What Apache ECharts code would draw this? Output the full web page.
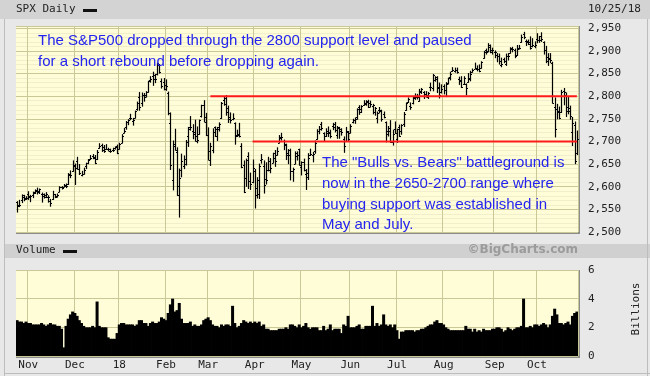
<!DOCTYPE html>
<html>
<head>
<meta charset="utf-8">
<script src="https://cdn.jsdelivr.net/npm/echarts@6/dist/echarts.min.js"></script>
<style>
  html, body { margin: 0; padding: 0; background: #e8e8e8; }
  #chart { width: 650px; height: 376px; }
</style>
</head>
<body>
<div id="chart"></div>
<script>
// trading days, 10/25/17 .. 10/25/18
const firstDay = '2017-10-25';
const lastDay = '2018-10-25';
const holidays = ['2017-11-23', '2017-12-25', '2018-01-01', '2018-01-15', '2018-02-19',
  '2018-03-30', '2018-05-28', '2018-07-04', '2018-09-03'];
// label per month number, Jan shows the year
const monthLabels = ['18', 'Feb', 'Mar', 'Apr', 'May', 'Jun', 'Jul', 'Aug', 'Sep', 'Oct', 'Nov', 'Dec'];

// daily bars: [open, high, low, close]
const bars = [
  // Oct 2017
  [2566,2567,2544,2557],[2560,2570,2556,2560],[2570,2582,2565,2581],[2578,2581,2569,2572],[2575,2578,2572,2575],
  // Nov
  [2583,2589,2572,2579],[2577,2581,2567,2579],[2581,2588,2576,2587],[2588,2593,2585,2591],[2592,2597,2584,2590],
  [2588,2595,2585,2594],[2584,2586,2566,2584],[2580,2584,2575,2582],[2577,2587,2576,2584],[2577,2580,2566,2578],
  [2569,2572,2557,2565],[2572,2590,2572,2585],[2583,2583,2576,2578],[2579,2584,2577,2582],[2589,2600,2589,2599],
  [2600,2600,2595,2597],[2600,2605,2600,2602],[2603,2606,2598,2601],[2605,2629,2605,2627],[2628,2635,2620,2626],
  [2634,2657,2634,2647],
  // Dec
  [2645,2650,2605,2642],[2657,2665,2639,2639],[2640,2649,2627,2630],[2627,2634,2624,2629],[2628,2641,2628,2636],
  [2646,2652,2640,2652],[2653,2660,2651,2660],[2661,2669,2660,2664],[2667,2671,2662,2663],[2665,2669,2651,2652],
  [2661,2680,2660,2676],[2685,2695,2685,2690],[2692,2694,2678,2681],[2688,2691,2676,2679],[2683,2693,2683,2684],
  [2684,2685,2679,2683],[2679,2683,2676,2680],[2682,2685,2678,2682],[2686,2688,2683,2688],[2690,2692,2673,2674],
  // Jan 2018
  [2683,2696,2683,2695],[2697,2715,2697,2713],[2719,2729,2719,2724],[2732,2744,2727,2743],[2743,2748,2737,2748],
  [2751,2760,2748,2751],[2745,2751,2736,2748],[2752,2767,2752,2767],[2771,2787,2769,2786],[2799,2808,2769,2776],
  [2784,2807,2778,2803],[2803,2806,2789,2798],[2802,2810,2798,2810],[2809,2833,2809,2833],[2836,2843,2831,2839],
  [2845,2853,2824,2837],[2846,2848,2830,2839],[2848,2873,2847,2873],[2868,2870,2851,2853],[2833,2838,2818,2822],
  [2832,2839,2814,2824],
  // Feb
  [2816,2836,2813,2822],[2808,2809,2759,2762],[2741,2763,2638,2649],[2614,2701,2593,2695],[2690,2727,2681,2682],
  [2677,2686,2581,2581],[2601,2639,2533,2620],[2637,2672,2622,2656],[2646,2668,2640,2662],[2651,2702,2648,2698],
  [2713,2731,2689,2731],[2727,2755,2725,2732],[2722,2737,2706,2716],[2720,2747,2701,2701],[2711,2732,2697,2703],
  [2716,2747,2716,2747],[2757,2780,2754,2780],[2781,2790,2744,2744],[2754,2762,2713,2714],
  // Mar
  [2715,2730,2659,2678],[2658,2696,2647,2691],[2681,2728,2675,2721],[2731,2732,2711,2728],[2711,2731,2702,2727],
  [2733,2741,2723,2739],[2752,2786,2751,2786],[2791,2797,2780,2783],[2795,2801,2758,2765],[2774,2778,2742,2750],
  [2754,2763,2741,2748],[2750,2761,2748,2752],[2741,2741,2694,2712],[2715,2725,2711,2717],[2715,2740,2710,2711],
  [2691,2695,2642,2643],[2647,2657,2587,2588],[2620,2661,2601,2658],[2668,2675,2596,2613],[2612,2630,2594,2606],
  [2610,2659,2609,2641],
  // Apr
  [2634,2638,2553,2582],[2597,2620,2575,2614],[2584,2650,2574,2645],[2658,2671,2652,2662],[2645,2657,2586,2604],
  [2618,2653,2606,2614],[2638,2665,2635,2656],[2636,2662,2631,2642],[2653,2674,2653,2664],[2675,2680,2645,2657],
  [2670,2686,2670,2678],[2697,2713,2697,2707],[2710,2718,2703,2709],[2701,2703,2682,2694],[2692,2694,2660,2670],
  [2675,2682,2651,2670],[2681,2683,2615,2635],[2635,2641,2612,2639],[2651,2677,2651,2667],[2675,2677,2659,2670],
  [2683,2683,2648,2648],
  // May
  [2643,2655,2626,2655],[2655,2661,2635,2636],[2629,2638,2594,2630],[2621,2673,2616,2663],[2670,2683,2669,2672],
  [2670,2676,2655,2672],[2678,2701,2674,2697],[2705,2726,2705,2723],[2722,2733,2717,2728],[2738,2742,2725,2730],
  [2719,2719,2702,2711],[2713,2728,2711,2722],[2719,2732,2711,2720],[2718,2725,2708,2713],[2735,2740,2726,2733],
  [2738,2742,2721,2725],[2714,2733,2707,2733],[2730,2731,2707,2727],[2724,2728,2714,2721],[2705,2710,2676,2689],
  [2702,2731,2702,2724],[2720,2722,2700,2705],
  // Jun
  [2719,2737,2719,2735],[2742,2749,2741,2747],[2748,2752,2740,2749],[2753,2772,2749,2772],[2775,2779,2760,2771],
  [2765,2779,2764,2779],[2780,2790,2780,2782],[2785,2790,2780,2787],[2789,2791,2775,2776],[2784,2789,2776,2782],
  [2778,2782,2761,2780],[2766,2775,2758,2774],[2752,2765,2741,2763],[2769,2775,2763,2767],[2769,2769,2745,2749],
  [2760,2765,2752,2755],[2742,2743,2699,2717],[2722,2733,2712,2723],[2729,2746,2698,2699],[2699,2725,2692,2716],
  [2727,2743,2718,2718],
  // Jul
  [2705,2727,2698,2727],[2733,2736,2711,2713],[2724,2737,2716,2736],[2738,2764,2733,2760],[2769,2785,2769,2784],
  [2788,2796,2786,2793],[2779,2785,2771,2775],[2784,2799,2783,2798],[2797,2805,2793,2801],[2798,2804,2794,2798],
  [2789,2815,2789,2809],[2811,2817,2806,2815],[2809,2810,2795,2804],[2804,2810,2798,2802],[2799,2808,2795,2806],
  [2820,2829,2812,2820],[2817,2848,2812,2846],[2836,2843,2833,2837],[2842,2843,2808,2819],[2821,2829,2796,2802],
  [2809,2825,2807,2816],
  // Aug
  [2822,2825,2805,2813],[2800,2830,2799,2827],[2829,2840,2827,2840],[2842,2853,2836,2850],[2856,2863,2855,2858],
  [2856,2862,2853,2857],[2857,2862,2851,2853],[2838,2842,2826,2833],[2836,2843,2819,2821],[2827,2843,2826,2840],
  [2827,2827,2803,2819],[2831,2850,2831,2840],[2838,2855,2834,2850],[2854,2860,2853,2858],[2861,2873,2861,2863],
  [2860,2867,2856,2861],[2860,2869,2854,2856],[2862,2876,2862,2875],[2884,2899,2884,2897],[2901,2904,2893,2898],
  [2900,2916,2898,2914],[2908,2913,2896,2901],[2898,2906,2893,2902],
  // Sep
  [2897,2900,2885,2897],[2892,2894,2876,2889],[2889,2893,2871,2878],[2868,2884,2865,2872],[2882,2884,2874,2877],
  [2871,2893,2868,2888],[2889,2894,2880,2888],[2896,2907,2895,2905],[2906,2908,2898,2905],[2903,2904,2885,2888],
  [2891,2912,2890,2904],[2906,2912,2904,2907],[2919,2935,2919,2930],[2937,2941,2927,2930],[2921,2924,2912,2919],
  [2921,2924,2914,2916],[2919,2931,2904,2906],[2911,2927,2909,2914],[2911,2920,2907,2914],
  // Oct
  [2926,2938,2918,2924],[2924,2932,2919,2923],[2932,2940,2921,2926],[2919,2920,2893,2902],[2902,2910,2874,2886],
  [2877,2894,2868,2884],[2882,2894,2874,2881],[2874,2875,2785,2786],[2776,2796,2710,2728],[2771,2782,2750,2768],
  [2764,2776,2750,2751],[2764,2813,2764,2810],[2811,2817,2781,2809],[2803,2807,2755,2768],[2775,2797,2761,2768],
  [2774,2778,2749,2756],[2721,2753,2691,2741],[2737,2743,2651,2656],[2675,2723,2671,2706]
];

// volume, billions
const volumes = [
  2.5, 2.4, 2.4, 2.3, 2.4,
  2.3, 2.3, 2.2, 2.2, 2.2, 2.2, 2.3, 2.2, 2.1, 2.2, 2.3, 2.2, 2.2, 2.1, 2.1, 1.9, 0.6, 2.1, 2.6, 2.9, 3.1,
  3.0, 2.8, 2.5, 2.3, 2.1, 2.0, 2.0, 2.0, 2.1, 2.0, 3.8, 2.1, 2.0, 2.0, 2.0, 1.3, 1.2, 1.2, 1.2, 1.6,
  2.2, 2.3, 2.3, 2.2, 2.2, 2.2, 2.2, 2.1, 2.2, 2.5, 2.5, 2.3, 2.3, 2.1, 2.3, 2.4, 2.3, 2.3, 2.4, 2.7, 2.6,
  2.5, 3.0, 3.6, 4.0, 3.1, 3.2, 3.7, 2.6, 2.3, 2.3, 2.3, 2.4, 2.1, 2.2, 2.1, 2.1, 2.2, 2.5, 2.6,
  2.7, 2.5, 2.2, 2.1, 2.1, 2.0, 2.2, 2.1, 2.2, 2.2, 2.1, 3.5, 2.3, 2.0, 2.1, 2.3, 2.5, 2.4, 2.3, 2.4, 2.3,
  2.4, 2.3, 2.4, 2.1, 2.2, 1.9, 1.9, 1.8, 1.8, 1.8, 1.8, 1.9, 1.9, 1.9, 2.0, 1.9, 2.2, 2.2, 2.1, 2.0, 2.2,
  2.0, 2.1, 2.3, 2.0, 1.9, 2.0, 2.0, 2.0, 1.8, 1.8, 2.1, 1.8, 1.9, 2.2, 1.8, 1.9, 1.9, 1.9, 1.6, 2.2, 2.1, 2.8,
  2.0, 2.0, 2.0, 2.1, 2.2, 1.9, 1.9, 2.1, 2.1, 2.1, 3.5, 2.1, 2.3, 2.1, 2.2, 2.9, 2.2, 2.1, 2.2, 2.0, 2.2,
  1.8, 1.2, 1.7, 1.7, 1.8, 1.8, 1.8, 1.8, 1.7, 1.8, 1.8, 1.9, 1.9, 2.0, 2.1, 2.2, 2.2, 2.4, 2.5, 2.3, 2.3,
  2.2, 2.0, 1.9, 1.8, 1.8, 1.8, 1.8, 1.8, 1.8, 1.8, 2.1, 1.9, 1.9, 1.7, 1.9, 1.7, 1.8, 1.7, 1.9, 1.8, 1.8, 1.8, 1.9,
  1.9, 2.0, 2.0, 1.9, 1.7, 1.8, 2.0, 1.9, 1.8, 1.9, 2.0, 2.0, 2.1, 4.0, 2.0, 2.0, 2.1, 2.0, 2.2,
  2.2, 2.1, 2.2, 2.3, 2.2, 2.0, 2.2, 2.8, 3.3, 2.9, 2.3, 2.3, 2.2, 2.3, 2.4, 2.2, 2.8, 3.0, 3.1
];

// red support / resistance lines
const levels = [
  { start: '2018-03-02', value: 2800 },
  { start: '2018-03-29', value: 2700 }
];

const priceTicks = { min: 2500, max: 2955, step: 50 };
const volumeTicks = { min: 0, max: 6, step: 2 };

const noteTop = [
  'The S&P500 dropped through the 2800 support level and paused',
  'for a short rebound before dropping again.'
];
const noteBottom = [
  'The "Bulls vs. Bears" battleground is',
  'now in the 2650-2700 range where',
  'buying support was established in',
  'May and July.'
];

const dates = [];
for (let d = new Date(firstDay + 'T00:00:00Z'); d <= new Date(lastDay + 'T00:00:00Z'); d.setUTCDate(d.getUTCDate() + 1)) {
  const wd = d.getUTCDay();
  const s = d.toISOString().slice(0, 10);
  if (wd !== 0 && wd !== 6 && holidays.indexOf(s) < 0) dates.push(s);
}
if (dates.length !== bars.length || dates.length !== volumes.length) {
  console.error('length mismatch', dates.length, bars.length, volumes.length);
}

const isMonthStart = (i) => i > 0 && dates[i].slice(5, 7) !== dates[i - 1].slice(5, 7);

const mono = '"DejaVu Sans Mono", monospace';
const gridColor = '#cbc898';
const plotBg = '#fefdd8';
const blue = '#2424ee';
const lastDate = dates[dates.length - 1];

const chart = echarts.init(document.getElementById('chart'));

const graphics = [
  { type: 'rect', shape: { x: 0, y: 0, width: 650, height: 19 }, style: { fill: '#d3d3d3' }, z: -10 },
  { type: 'rect', shape: { x: 4, y: 244, width: 646, height: 14 }, style: { fill: '#d0d0d0' }, z: -10 },
  { type: 'line', shape: { x1: 4.5, y1: 19, x2: 4.5, y2: 376 }, style: { stroke: '#bdbdbd', lineWidth: 1 } },
  { type: 'line', shape: { x1: 647.5, y1: 19, x2: 647.5, y2: 376 }, style: { stroke: '#bdbdbd', lineWidth: 1 } },
  { type: 'line', shape: { x1: 4, y1: 373.5, x2: 650, y2: 373.5 }, style: { stroke: '#bdbdbd', lineWidth: 1 } },
  // plot shadows
  { type: 'rect', shape: { x: 16, y: 232, width: 564, height: 2 }, style: { fill: '#8c8c8c' } },
  { type: 'rect', shape: { x: 578, y: 26, width: 2, height: 208 }, style: { fill: '#8c8c8c' } },
  { type: 'rect', shape: { x: 16, y: 356, width: 564, height: 2 }, style: { fill: '#8c8c8c' } },
  { type: 'rect', shape: { x: 578, y: 270, width: 2, height: 88 }, style: { fill: '#8c8c8c' } },
  // header texts
  { type: 'text', left: 16, top: 4, style: { text: 'SPX Daily', font: '11px ' + mono, fill: '#222' } },
  { type: 'rect', shape: { x: 83, y: 9, width: 14, height: 3 }, style: { fill: '#111' } },
  { type: 'text', left: 588, top: 4, style: { text: lastDate.slice(5, 7) + '/' + lastDate.slice(8, 10) + '/' + lastDate.slice(2, 4), font: '11px ' + mono, fill: '#222' } },
  { type: 'text', left: 16, top: 245, style: { text: 'Volume', font: '11px ' + mono, fill: '#222' } },
  { type: 'rect', shape: { x: 63, y: 250, width: 14, height: 3 }, style: { fill: '#111' } },
  { type: 'text', right: 72, top: 244, style: { text: '\u00a9BigCharts.com', font: 'bold 12px "DejaVu Sans", sans-serif', fill: '#9b9b9b' } },
  { type: 'text', x: 636, y: 309, rotation: Math.PI / 2,
    style: { text: 'Billions', font: '11px ' + mono, fill: '#222', align: 'center', verticalAlign: 'middle' } }
];
noteTop.forEach((t, i) => graphics.push({
  type: 'text', x: 38, y: 41 + i * 21, z: 20,
  style: { text: t, font: '15px "Liberation Sans", Arial, sans-serif', fill: blue, verticalAlign: 'middle' }
}));
noteBottom.forEach((t, i) => graphics.push({
  type: 'text', x: 322, y: 163 + i * 20.7, z: 20,
  style: { text: t, font: '15px "Liberation Sans", Arial, sans-serif', fill: blue, verticalAlign: 'middle' }
}));

function renderBar(params, api) {
  const i = api.value(0);
  const x = Math.round(api.coord([i, api.value(1)])[0]) + 0.5;
  const yO = Math.round(api.coord([i, api.value(1)])[1]) + 0.5;
  const yH = api.coord([i, api.value(2)])[1];
  const yL = api.coord([i, api.value(3)])[1];
  const yC = Math.round(api.coord([i, api.value(4)])[1]) + 0.5;
  const st = { stroke: '#000', lineWidth: 1.2 };
  return {
    type: 'group',
    children: [
      { type: 'line', shape: { x1: x, y1: yH - 0.5, x2: x, y2: yL + 0.5 }, style: st },
      { type: 'line', shape: { x1: x - 1.5, y1: yO, x2: x, y2: yO }, style: st },
      { type: 'line', shape: { x1: x, y1: yC, x2: x + 1.5, y2: yC }, style: st }
    ]
  };
}

const xBase = {
  type: 'category',
  data: dates,
  boundaryGap: true,
  axisLine: { show: false },
  axisTick: { show: false },
  splitLine: { show: true, interval: (i) => isMonthStart(i), lineStyle: { color: gridColor, width: 1 } }
};

chart.setOption({
  animation: false,
  backgroundColor: '#e8e8e8',
  graphic: graphics,
  grid: [
    { left: 16, right: 72, top: 26, height: 206, show: true, backgroundColor: plotBg, borderWidth: 0 },
    { left: 16, right: 72, top: 270, height: 86, show: true, backgroundColor: plotBg, borderWidth: 0 }
  ],
  xAxis: [
    Object.assign({}, xBase, { gridIndex: 0, axisLabel: { show: false } }),
    Object.assign({}, xBase, {
      gridIndex: 1,
      axisLabel: {
        show: true, margin: 4, interval: (i) => isMonthStart(i),
        formatter: (v) => monthLabels[Number(v.slice(5, 7)) - 1],
        fontFamily: mono, fontSize: 11, color: '#222'
      }
    })
  ],
  yAxis: [
    {
      gridIndex: 0, type: 'value', position: 'right',
      min: priceTicks.min, max: priceTicks.max, interval: priceTicks.step,
      axisLine: { show: false }, axisTick: { show: false },
      axisLabel: {
        margin: 10, showMaxLabel: false, fontFamily: mono, fontSize: 11, color: '#222',
        formatter: (v) => String(v).replace(/(\d)(\d{3})$/, '$1,$2')
      },
      splitLine: { lineStyle: { color: gridColor } },
      minorTick: { show: false, splitNumber: 5 },
      minorSplitLine: { show: true, lineStyle: { color: '#f1eecb' } }
    },
    {
      gridIndex: 1, type: 'value', position: 'right',
      min: volumeTicks.min, max: volumeTicks.max, interval: volumeTicks.step,
      axisLine: { show: false }, axisTick: { show: false },
      axisLabel: { margin: 10, fontFamily: mono, fontSize: 11, color: '#222' },
      splitLine: { lineStyle: { color: gridColor } }
    }
  ],
  series: [
    {
      type: 'custom', name: 'SPX', xAxisIndex: 0, yAxisIndex: 0,
      renderItem: renderBar,
      encode: { x: 0, y: [1, 2, 3, 4] },
      data: bars.map((b, i) => [i].concat(b)),
      z: 5
    },
    ...levels.map((l) => ({
      type: 'line', xAxisIndex: 0, yAxisIndex: 0, symbol: 'none', silent: true, z: 6,
      lineStyle: { color: '#ff1a1a', width: 2 },
      data: [[l.start, l.value], [lastDate, l.value]]
    })),
    {
      type: 'bar', name: 'Volume', xAxisIndex: 1, yAxisIndex: 1,
      barWidth: 3, itemStyle: { color: '#000' },
      data: volumes
    }
  ]
});
</script>
</body>
</html>
